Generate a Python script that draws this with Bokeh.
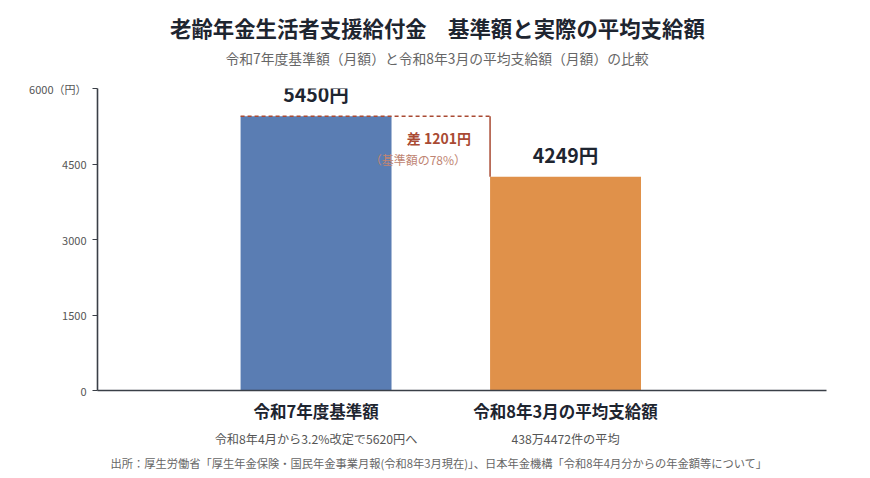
from bokeh.plotting import figure
from bokeh.models import Range1d, FixedTicker, Label, LinearAxis, Title
from bokeh.embed import file_html
from bokeh.resources import INLINE

categories = ["令和7年度基準額", "令和8年3月の平均支給額"]
sublabels = ["令和8年4月から3.2%改定で5620円へ", "438万4472件の平均"]
values = [5450, 4249]
colors = ["#5a7db3", "#e0914a"]
y_ticks = [0, 1500, 3000, 4500, 6000]
title_text = "老齢年金生活者支援給付金　基準額と実際の平均支給額"
subtitle_text = "令和7年度基準額（月額）と令和8年3月の平均支給額（月額）の比較"
footer_text = "出所：厚生労働省「厚生年金保険・国民年金事業月報(令和8年3月現在)」、日本年金機構「令和8年4月分からの年金額等について」"

FONT = "Noto Sans CJK JP"
W, H = 870, 478
FL, FR, FT, FB = 97, 826, 88, 390
xs = [1, 2]
bar_w = 0.605
x0, x1 = 0.124, 3.046
y0, y1 = 0, 6000

p = figure(width=W, height=H, output_backend="svg", toolbar_location=None,
           x_range=Range1d(x0, x1), y_range=Range1d(y0, y1),
           min_border_left=FL, min_border_right=W - FR, min_border_top=FT, min_border_bottom=H - FB)
p.outline_line_color = None
p.xgrid.visible = False
p.ygrid.visible = False
p.background_fill_color = "white"
p.border_fill_color = "white"

p.vbar(x=xs, top=values, width=bar_w, color=colors, line_color=None)

# y axis
ya = p.yaxis[0]
ya.ticker = FixedTicker(ticks=y_ticks)
ya.major_label_overrides = {6000: "6000（円）"}
ya.minor_tick_line_color = None
ya.major_tick_in = 0
ya.major_tick_out = 5
ya.axis_line_color = "#3a3f47"
ya.axis_line_width = 1.6
ya.major_tick_line_color = "#3a3f47"
ya.major_label_text_font = FONT
ya.major_label_text_font_size = "11px"
ya.major_label_text_color = "#555555"
ya.major_label_standoff = 6

# x axis: category names
xa = p.xaxis[0]
xa.ticker = FixedTicker(ticks=xs)
xa.major_label_overrides = {x: c for x, c in zip(xs, categories)}
xa.minor_tick_line_color = None
xa.major_tick_in = 0
xa.major_tick_out = 0
xa.axis_line_color = "#3a3f47"
xa.axis_line_width = 1.6
xa.major_label_text_font = FONT
xa.major_label_text_font_size = "16.5px"
xa.major_label_text_font_style = "bold"
xa.major_label_text_color = "#1e2530"
xa.major_label_standoff = 8

# second x axis: sub-labels
xb = LinearAxis(ticker=FixedTicker(ticks=xs),
                major_label_overrides={x: s for x, s in zip(xs, sublabels)})
xb.axis_line_color = None
xb.major_tick_line_color = None
xb.minor_tick_line_color = None
xb.major_tick_in = 0
xb.major_tick_out = 0
xb.major_label_text_font = FONT
xb.major_label_text_font_size = "12.2px"
xb.major_label_text_color = "#555555"
xb.major_label_standoff = 4
p.add_layout(xb, "below")

px_per_unit_y = (y1 - y0) / (FB - FT)
px_per_unit_x = (x1 - x0) / (FR - FL)

# value labels
for x, v in zip(xs, values):
    p.add_layout(Label(x=x, y=v + 8 * px_per_unit_y, text=f"{v}円", text_align="center",
                       text_baseline="bottom", text_font=FONT, text_font_size="19.5px",
                       text_font_style="bold", text_color="#1e2530"))

# difference bracket
left1 = xs[0] - bar_w / 2
left2 = xs[1] - bar_w / 2
p.line(x=[left1, left2], y=[values[0], values[0]], line_color="#a94a33", line_width=1.5, line_dash="4 3")
p.line(x=[left2, left2], y=[values[0], values[1]], line_color="#a94a33", line_width=1.5)
diff = values[0] - values[1]
pct = round(values[1] / values[0] * 100)
p.add_layout(Label(x=left2 - 19 * px_per_unit_x, y=values[0] - 22 * px_per_unit_y,
                   text=f"差 {diff}円", text_align="right", text_baseline="middle",
                   text_font=FONT, text_font_size="14px", text_font_style="bold",
                   text_color="#a94a33"))
p.add_layout(Label(x=left2 - 24 * px_per_unit_x, y=values[0] - 43 * px_per_unit_y,
                   text=f"（基準額の{pct}%）", text_align="right", text_baseline="middle",
                   text_font=FONT, text_font_size="12px", text_color="#c08573"))

# spacer, subtitle, title (stacked outward from the frame) and footer
p.add_layout(Title(text=" ", text_font_size="1px", standoff=16), "above")
p.add_layout(Title(text=subtitle_text, align="left", offset=128,
                   text_font=FONT, text_font_size="13.8px", text_font_style="normal",
                   text_color="#666666", standoff=4), "above")
p.add_layout(Title(text=title_text, align="left", offset=72.5,
                   text_font=FONT, text_font_size="21.4px", text_font_style="bold",
                   text_color="#1e2530", standoff=1), "above")
p.add_layout(Title(text=footer_text, align="left", offset=13,
                   text_font=FONT, text_font_size="11.25px", text_font_style="normal",
                   text_color="#666666", standoff=4), "below")

open("out.html", "w").write(file_html(p, INLINE))
